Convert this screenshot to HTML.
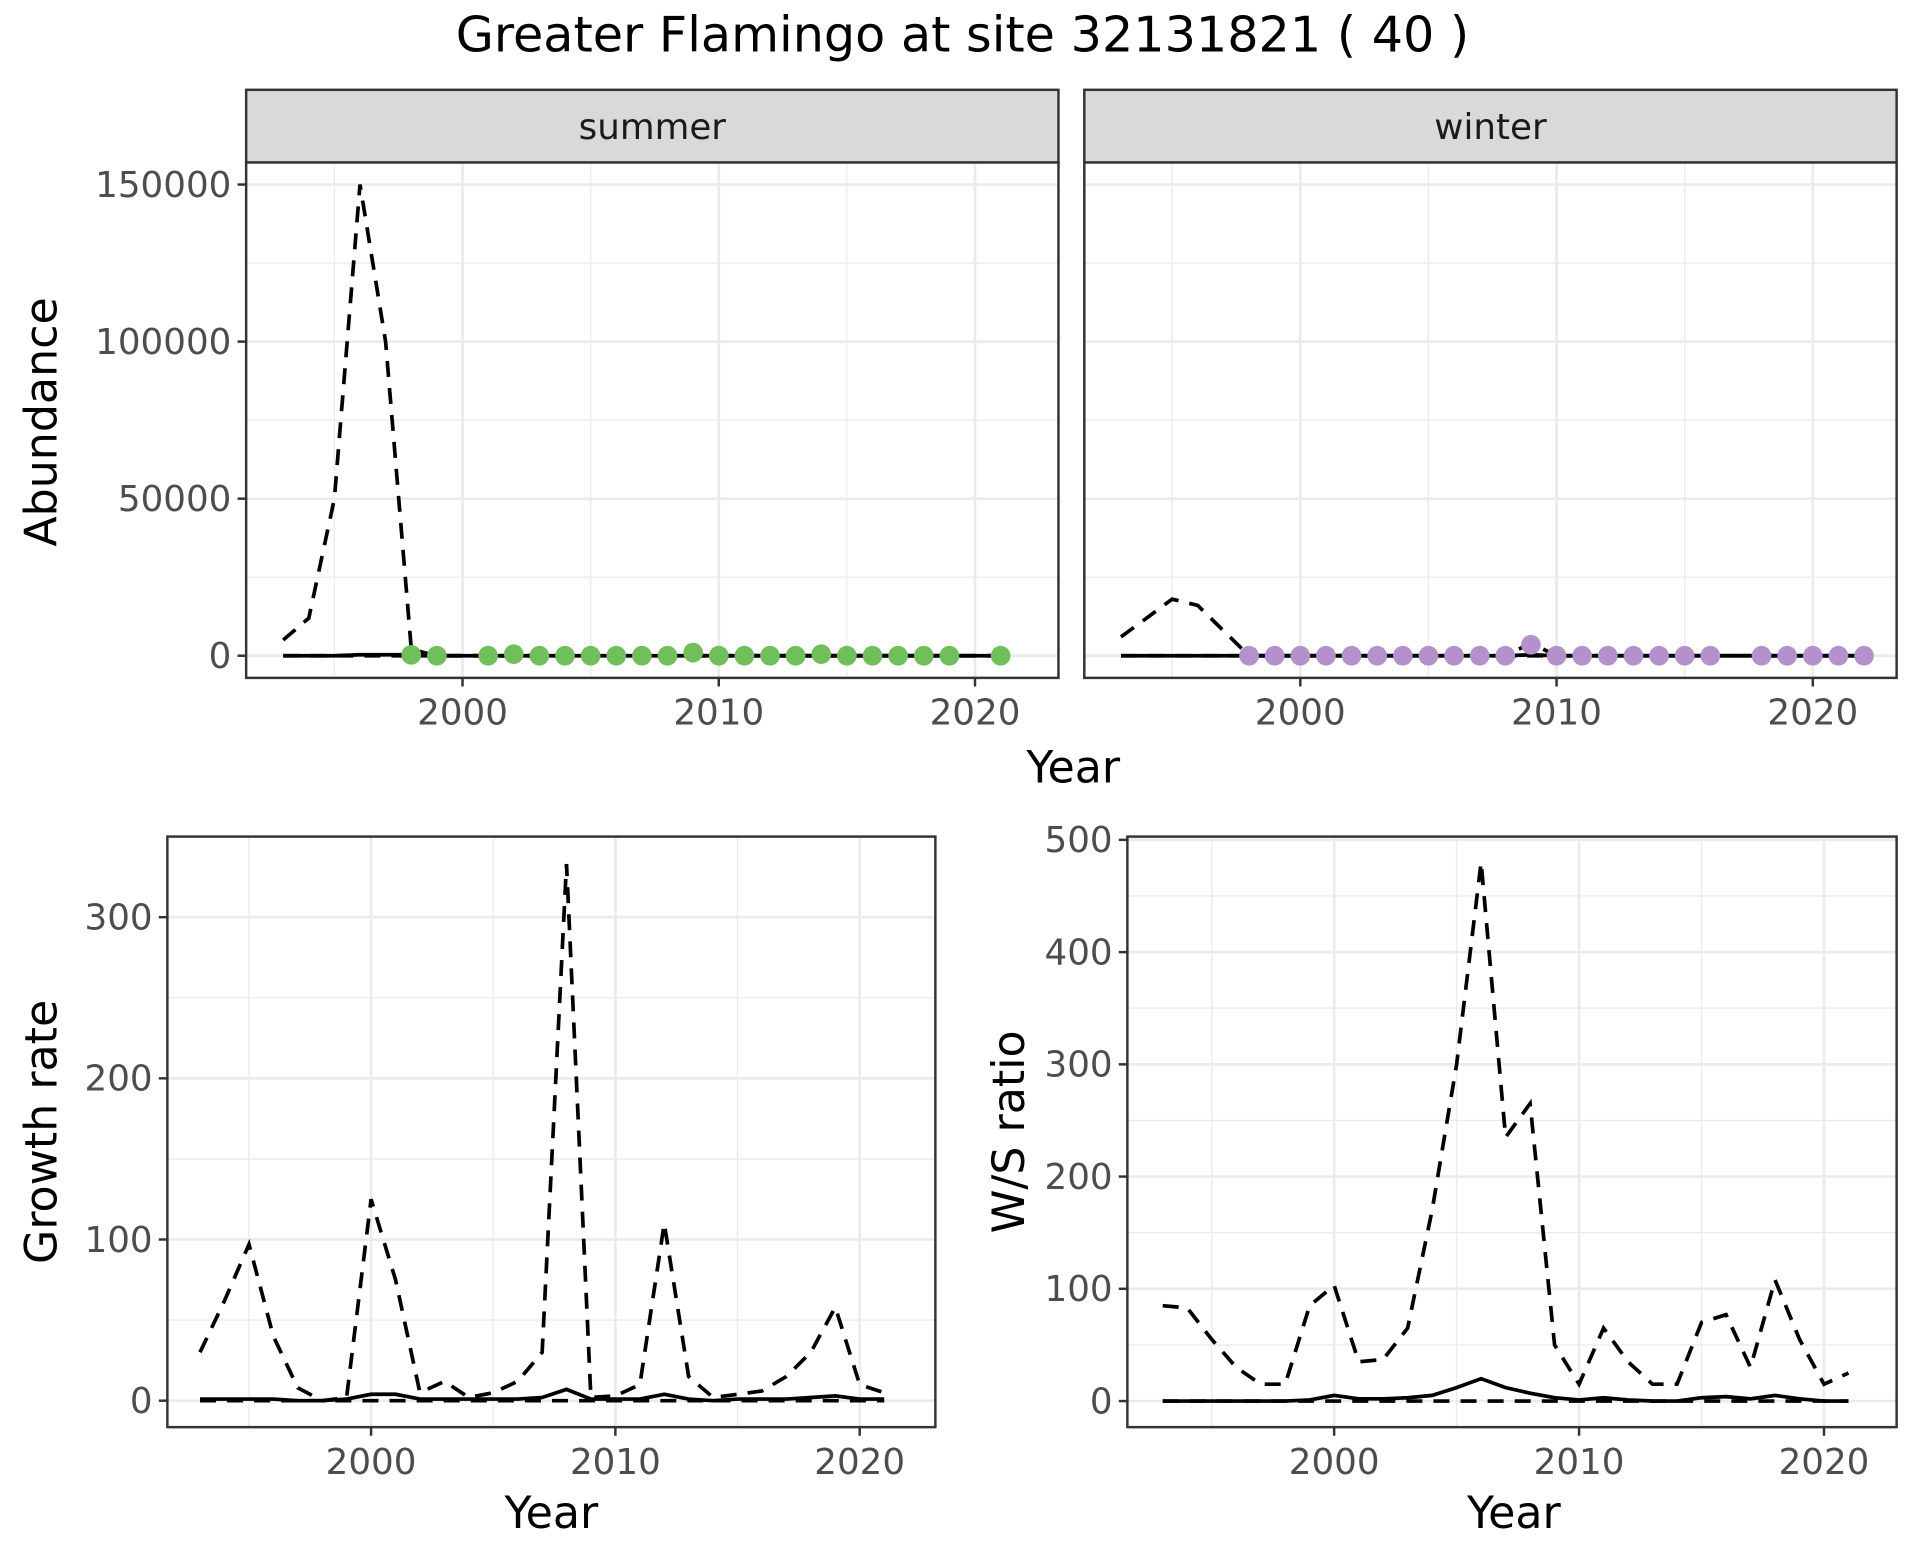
<!DOCTYPE html>
<html><head><meta charset="utf-8"><style>
html,body{margin:0;padding:0;background:#fff}
svg{display:block}
text{font-family:"DejaVu Sans","Liberation Sans",sans-serif}
</style></head><body>
<svg id="chart" width="1920" height="1560" viewBox="0 0 1560 1268" preserveAspectRatio="none" xmlns="http://www.w3.org/2000/svg">
<rect width="1560" height="1268" fill="#fff"/>
<text x="782" y="42" font-size="40" text-anchor="middle" fill="#000">Greater Flamingo at site 32131821 ( 40 )</text>
<g id="g"></g>
</svg>
<script>
// ---- data ----
const years = [1993,1994,1995,1996,1997,1998,1999,2000,2001,2002,2003,2004,2005,2006,2007,2008,2009,2010,2011,2012,2013,2014,2015,2016,2017,2018,2019,2020,2021];
const summerUpper = [5000,12000,50000,150000,100000,2000,0,0,0,0,0,0,0,0,0,0,0,0,0,0,0,0,0,0,0,0,0,0,0];
const summerMean = [0,0,0,300,300,300,0,0,0,0,0,0,0,0,0,0,0,0,0,0,0,0,0,0,0,0,0,0,0];
const summerPtYears = [1998,1999,2001,2002,2003,2004,2005,2006,2007,2008,2009,2010,2011,2012,2013,2014,2015,2016,2017,2018,2019,2021];
const summerPtVals = [300,0,0,500,0,0,0,0,0,0,1000,0,0,0,0,500,0,0,0,0,0,0];
const winterYears = [1993,1994,1995,1996,1997,1998,1999,2000,2001,2002,2003,2004,2005,2006,2007,2008,2009,2010,2011,2012,2013,2014,2015,2016,2017,2018,2019,2020,2021,2022];
const winterUpper = [6000,12000,18000,16000,8000,0,0,0,0,0,0,0,0,0,0,0,4000,0,0,0,0,0,0,0,0,0,0,0,0,0];
const winterMean = [0,0,0,0,0,0,0,0,0,0,0,0,0,0,0,0,300,0,0,0,0,0,0,0,0,0,0,0,0,0];
const winterPtYears = [1998,1999,2000,2001,2002,2003,2004,2005,2006,2007,2008,2009,2010,2011,2012,2013,2014,2015,2016,2018,2019,2020,2021,2022];
const winterPtVals = [0,0,0,0,0,0,0,0,0,0,0,3500,0,0,0,0,0,0,0,0,0,0,0,0];
const growthUpper = [30,62,97,40,8,0,2,125,75,5,12,2,5,12,30,333,2,3,10,110,15,2,4,6,15,30,58,10,5];
const growthMean = [1,1,1,1,0,0,1,4,4,1,1,1,1,1,2,7,1,1,1,4,1,0,1,1,1,2,3,1,1];
const wsUpper = [85,83,55,30,15,15,85,103,35,37,65,170,300,480,235,265,50,15,65,35,15,15,70,77,30,108,55,15,25];
const wsMean = [0,0,0,0,0,0,1,5,2,2,3,5,12,20,12,7,3,1,3,1,0,0,3,4,2,5,2,0,0];
const abTicks = [0,50000,100000,150000];
const grTicks = [0,100,200,300];
const wsTicks = [0,100,200,300,400,500];
const xTicks = [2000,2010,2020];

const NS="http://www.w3.org/2000/svg", G=document.getElementById('g');
function el(t,a,p){const e=document.createElementNS(NS,t);for(const k in a)e.setAttribute(k,a[k]);(p||G).appendChild(e);return e;}

function panel(name,x0,x1,y0,y1,xs,ys,yTicks,showY){
  const g=el('g',{});
  
  
  [1995,2005,2015].forEach(v=>el('line',{x1:xs(v),x2:xs(v),y1:y0,y2:y1,stroke:'#ebebeb','stroke-width':1.1},g));
  for(let i=0;i<yTicks.length;i++){const mid=yTicks[i]+(yTicks[1]-yTicks[0])/2;const yy=ys(mid);if(yy>y0)el('line',{x1:x0,x2:x1,y1:yy,y2:yy,stroke:'#ebebeb','stroke-width':1.1},g);}
  xTicks.forEach(v=>el('line',{x1:xs(v),x2:xs(v),y1:y0,y2:y1,stroke:'#ebebeb','stroke-width':2.2},g));
  yTicks.forEach(v=>el('line',{x1:x0,x2:x1,y1:ys(v),y2:ys(v),stroke:'#ebebeb','stroke-width':2.2},g));
  xTicks.forEach(v=>{el('line',{x1:xs(v),x2:xs(v),y1:y1,y2:y1+7,stroke:'#333','stroke-width':2},g);
    const t=el('text',{x:xs(v),y:y1+38,'font-size':29,fill:'#4d4d4d','text-anchor':'middle'},g);t.textContent=v;});
  if(showY)yTicks.forEach(v=>{el('line',{x1:x0-7,x2:x0,y1:ys(v),y2:ys(v),stroke:'#333','stroke-width':2},g);
    const t=el('text',{x:x0-12,y:ys(v)+10,'font-size':29,fill:'#4d4d4d','text-anchor':'end'},g);t.textContent=v;});
  return g;
}
function line(g,xv,yv,xs,ys,dash,name){
  const d=xv.map((x,i)=>(i?'L':'M')+xs(x).toFixed(1)+' '+ys(yv[i]).toFixed(1)).join(' ');
  const p=el('path',{d:d,fill:'none',stroke:'#000','stroke-width':3,'stroke-dasharray':dash||'none'},g);
  
  
}
function pts(g,xv,yv,xs,ys,col,name){xv.forEach((x,i)=>{const c=el('circle',{cx:xs(x),cy:ys(yv[i]),r:8,fill:col},g);
  
  });}
function border(g,x0,x1,y0,y1){el('rect',{x:x0,y:y0,width:x1-x0,height:y1-y0,fill:'none',stroke:'#333','stroke-width':2},g);}
function strip(label,x0,x1){const s=el('rect',{x:x0,y:73,width:x1-x0,height:59,fill:'#d9d9d9',stroke:'#333','stroke-width':2});
  
  
  const t=el('text',{x:(x0+x1)/2,y:113,'font-size':29,fill:'#1a1a1a','text-anchor':'middle'});t.textContent=label;}
function lab(txt,x,y,rot,name){const t=el('text',{x:x,y:y,'font-size':36,fill:'#000','text-anchor':'middle',transform:rot?`rotate(-90 ${x} ${y})`:''});t.textContent=txt;
  
  }

// top panels
const abY=v=>533-v*(383/150000);
const sX=v=>375.8+(v-2000)*20.82, wX=v=>1056.5+(v-2000)*20.82;
let g=panel('summer-panel',200,860,132,551,sX,abY,abTicks,true);
line(g,years,summerUpper,sX,abY,'13 9','summer-upper');
line(g,years,years.map(()=>0),sX,abY,'13 9','summer-lower');
line(g,years,summerMean,sX,abY,null,'summer-mean');
pts(g,summerPtYears,summerPtVals,sX,abY,'#70bf5a','summer-point');
border(g,200,860,132,551);
g=panel('winter-panel',881,1541,132,551,wX,abY,abTicks,false);
line(g,winterYears,winterUpper,wX,abY,'13 9','winter-upper');
line(g,winterYears,winterYears.map(()=>0),wX,abY,'13 9','winter-lower');
line(g,winterYears,winterMean,wX,abY,null,'winter-mean');
pts(g,winterPtYears,winterPtVals,wX,abY,'#b491cc','winter-point');
border(g,881,1541,132,551);
strip('summer',200,860);strip('winter',881,1541);
lab('Year',872,636,false,'top-x-axis-title');
lab('Abundance',46,343,true,'top-y-axis-title');

// growth
const gX=v=>301.5+(v-2000)*19.85, gY=v=>1138.5-v*1.31;
g=panel('growth-panel',136,760,680,1160,gX,gY,grTicks,true);
line(g,years,growthUpper,gX,gY,'13 9','growth-upper');
line(g,years,years.map(()=>0),gX,gY,'13 9','growth-lower');
line(g,years,growthMean,gX,gY,null,'growth-mean');
border(g,136,760,680,1160);
lab('Year',448,1242,false,'growth-x-axis-title');
lab('Growth rate',46,920,true,'growth-y-axis-title');

// ws ratio
const rX=v=>1084+(v-2000)*19.9, rY=v=>1138.8-v*0.9123;
g=panel('ws-panel',916,1541,680,1160,rX,rY,wsTicks,true);
line(g,years,wsUpper,rX,rY,'13 9','ws-upper');
line(g,years,years.map(()=>0),rX,rY,'13 9','ws-lower');
line(g,years,wsMean,rX,rY,null,'ws-mean');
border(g,916,1541,680,1160);
lab('Year',1230,1242,false,'ws-x-axis-title');
lab('W/S ratio',832,920,true,'ws-y-axis-title');
</script>
</body></html>
